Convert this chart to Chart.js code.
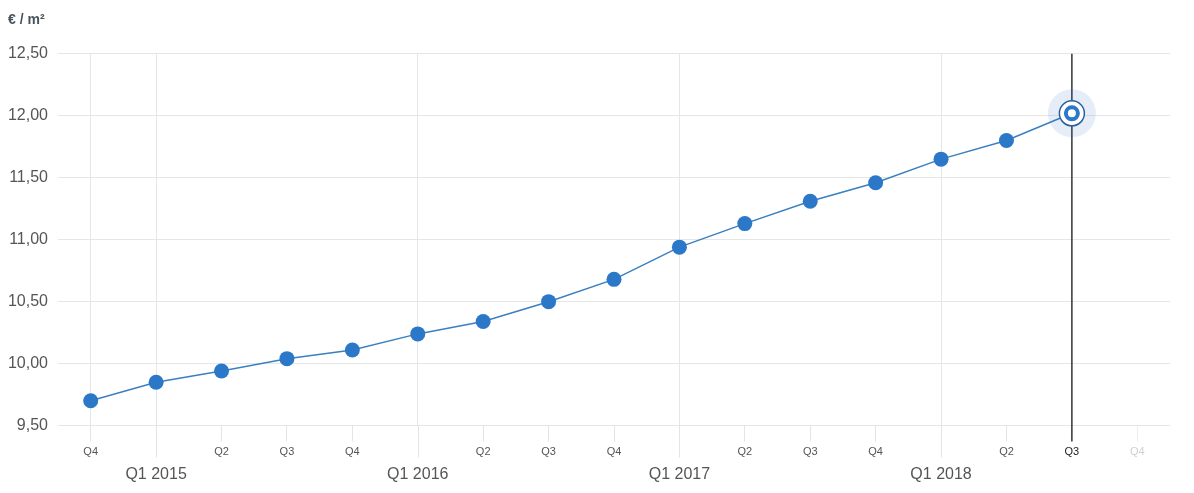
<!DOCTYPE html>
<html>
<head>
<meta charset="utf-8">
<script src="https://cdn.jsdelivr.net/npm/chart.js@4/dist/chart.umd.min.js"></script>
<style>
  body { margin: 0; background: #fff; }
  #wrap { width: 1194px; height: 493px; position: relative; }
</style>
</head>
<body>
<div id="wrap"><canvas id="priceChart"></canvas></div>
<script>
const quarters = ["Q4", "Q1", "Q2", "Q3", "Q4", "Q1", "Q2", "Q3", "Q4", "Q1", "Q2", "Q3", "Q4", "Q1", "Q2", "Q3", "Q4"];
const years = [2014, 2015, 2015, 2015, 2015, 2016, 2016, 2016, 2016, 2017, 2017, 2017, 2017, 2018, 2018, 2018, 2018];
const pricePerSqm = [9.70, 9.85, 9.94, 10.04, 10.11, 10.24, 10.34, 10.50, 10.68, 10.94, 11.13, 11.31, 11.46, 11.65, 11.80, 12.02, null];
const yTicks = [9.5, 10, 10.5, 11, 11.5, 12, 12.5];
const activeIndex = 15;

const labels = quarters.map((q, i) => q + " " + years[i]);
const onlyActive = pricePerSqm.map((v, i) => i === activeIndex ? v : null);
const font = "'Liberation Sans', Arial, sans-serif";
const blue = "#2b77c8";

// long tick marks under Q1 + hover crosshair
const extras = {
    id: "extras",
    beforeDatasetsDraw(chart) {
        const { ctx, chartArea, scales } = chart;
        const x = scales.x.getPixelForValue(activeIndex);
        ctx.save();
        ctx.strokeStyle = "#333";
        ctx.lineWidth = 1.5;
        ctx.beginPath();
        ctx.moveTo(x, chartArea.top);
        ctx.lineTo(x, chartArea.bottom + 16);
        ctx.stroke();
        ctx.restore();
    },
    afterDraw(chart) {
        const { ctx, chartArea, scales } = chart;
        ctx.save();
        ctx.strokeStyle = "#e4e4e4";
        ctx.lineWidth = 1;
        quarters.forEach((q, i) => {
            if (q !== "Q1") return;
            const x = Math.round(scales.x.getPixelForValue(i)) + 0.5;
            ctx.beginPath();
            ctx.moveTo(x, chartArea.bottom);
            ctx.lineTo(x, chartArea.bottom + 32);
            ctx.stroke();
        });
        ctx.restore();
    }
};

new Chart(document.getElementById("priceChart"), {
    type: "line",
    data: {
        labels: labels,
        datasets: [
            {
                data: onlyActive,
                pointRadius: 6,
                pointBackgroundColor: "#fff",
                pointBorderColor: blue,
                pointBorderWidth: 4,
                showLine: false
            },
            {
                data: onlyActive,
                pointRadius: 12.5,
                pointBackgroundColor: "#fff",
                pointBorderColor: "#2c5f98",
                pointBorderWidth: 1.5,
                showLine: false
            },
            {
                data: onlyActive,
                pointRadius: 24,
                pointBackgroundColor: "rgba(43,119,200,0.12)",
                pointBorderWidth: 0,
                showLine: false
            },
            {
                data: pricePerSqm,
                borderColor: "#3a80c0",
                borderWidth: 1.5,
                pointRadius: pricePerSqm.map((v, i) => i === activeIndex ? 0 : 7.5),
                pointBackgroundColor: blue,
                pointBorderWidth: 0,
                tension: 0
            }
        ]
    },
    options: {
        responsive: true,
        maintainAspectRatio: false,
        animation: false,
        events: [],
        layout: { padding: { left: 8, right: 20, top: 4, bottom: 5 } },
        plugins: {
            legend: { display: false },
            tooltip: { enabled: false },
            title: {
                display: true,
                text: "€ / m²",
                align: "start",
                color: "#46555b",
                font: { family: font, size: 14, weight: "bold" },
                padding: { top: 8, bottom: 25 }
            }
        },
        scales: {
            x: {
                offset: true,
                border: { display: false },
                grid: {
                    color: (c) => (c.index === 0 || quarters[c.index] === "Q1") ? "#e6e6e6" : "transparent",
                    tickColor: (c) => quarters[c.index] === "Q1" ? "transparent" : (c.index === quarters.length - 1 ? "#eeeeee" : "#e4e4e4"),
                    tickLength: 16
                },
                ticks: {
                    autoSkip: false,
                    maxRotation: 0,
                    padding: 4,
                    callback: (v, i) => quarters[i] === "Q1" ? ["", "Q1 " + years[i]] : quarters[i],
                    font: (c) => quarters[c.index] === "Q1" ? { family: font, size: 16 } : { family: font, size: 11 },
                    color: (c) => c.index === activeIndex ? "#222" : (c.index === quarters.length - 1 ? "#d0d0d0" : "#555")
                }
            },
            y: {
                min: yTicks[0],
                max: yTicks[yTicks.length - 1],
                border: { display: false },
                grid: { color: "#e6e6e6", drawTicks: false },
                afterBuildTicks: (axis) => { axis.ticks = yTicks.map(v => ({ value: v })); },
                afterFit: (axis) => { axis.width = 50; },
                ticks: {
                    padding: 10,
                    color: "#555",
                    font: { family: font, size: 16 },
                    callback: (v) => v.toFixed(2).replace(".", ",")
                }
            }
        }
    },
    plugins: [extras]
});
</script>
</body>
</html>
